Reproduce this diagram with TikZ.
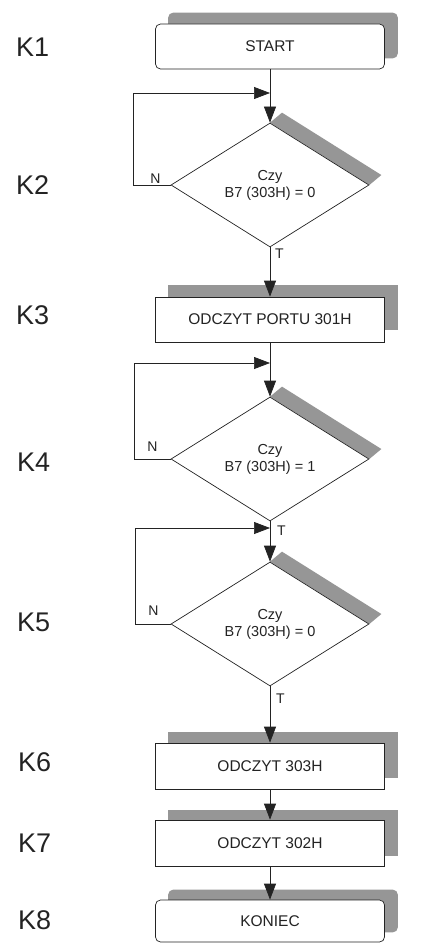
\documentclass[tikz,border=0pt]{standalone}
\usepackage{fontspec}
\setmainfont{Liberation Sans}
\usetikzlibrary{arrows.meta,shapes.geometric,calc,backgrounds}
\definecolor{shade}{RGB}{150,150,150}
\definecolor{ink}{RGB}{35,35,35}
\begin{document}
\begin{tikzpicture}[x=1pt,y=-1pt,
  box/.style={draw=ink, line width=0.7pt, fill=white, rectangle, minimum width=229pt, minimum height=45pt, inner sep=0pt, font=\fontsize{15.5}{17}\selectfont, text=ink},
  rbox/.style={box, rounded corners=5pt},
  dec/.style={draw=ink, line width=0.7pt, fill=white, diamond, minimum width=198pt, minimum height=124pt, inner sep=0pt, align=center, font=\fontsize{14.5}{17}\selectfont, text=ink},
  klab/.style={anchor=west, inner sep=0pt, font=\fontsize{27}{30}\selectfont, text=ink},
  lab/.style={inner sep=0pt, font=\fontsize{14}{15}\selectfont, text=ink},
  flow/.style={draw=ink, line width=0.7pt, -{Triangle[length=16pt,width=12pt]}},
  shad/.style={fill=shade}
]
\useasboundingbox (0,0) rectangle (431,944);

% step labels
\node[klab] (l1) at (16,47) {K1};
\node[klab] (l2) at (16,185) {K2};
\node[klab] (l3) at (16,315) {K3};
\node[klab] (l4) at (17,462) {K4};
\node[klab] (l5) at (17,622) {K5};
\node[klab] (l6) at (18,762) {K6};
\node[klab] (l7) at (18,843) {K7};
\node[klab] (l8) at (18,920) {K8};

% flow nodes
\node[rbox] (k1) at (270,46.5) {START};
\node[dec] (k2) at (270,185) {Czy\\B7 (303H) = 0};
\node[box] (k3) at (270,319.5) {ODCZYT PORTU 301H};
\node[dec] (k4) at (270,459) {Czy\\B7 (303H) = 1};
\node[dec] (k5) at (270,624) {Czy\\B7 (303H) = 0};
\node[box, minimum height=46pt] (k6) at (270,766) {ODCZYT 303H};
\node[box, minimum height=46pt] (k7) at (270,843) {ODCZYT 302H};
\node[rbox, minimum height=42pt] (k8) at (270,921) {KONIEC};

% shadows
\begin{scope}[on background layer]
  \fill[shad, rounded corners=5pt] ($(k1.south west)+(13,-11)$) rectangle ($(k1.north east)+(13,-11)$);
  \fill[shad] ($(k3.south west)+(13,-12)$) rectangle ($(k3.north east)+(13,-12)$);
  \fill[shad] ($(k6.south west)+(13,-11)$) rectangle ($(k6.north east)+(13,-11)$);
  \fill[shad] ($(k7.south west)+(13,-10)$) rectangle ($(k7.north east)+(13,-10)$);
  \fill[shad, rounded corners=5pt] ($(k8.south west)+(13,-10)$) rectangle ($(k8.north east)+(13,-10)$);
  \foreach \d in {k2,k4,k5}{
    \fill[shad] (\d.north) -- (\d.east) -- ($(\d.east)+(12,-10)$) -- ($(\d.north)+(12,-10)$) -- cycle;
  }
\end{scope}

% junction points of the loops
\coordinate (j2) at (270,93);
\coordinate (j4) at (270,363);
\coordinate (j5) at (270,528);

% main flow
\draw[flow] (k1) -- (k2);
\draw[flow] (k2) -- (k3);
\draw[flow] (k3) -- (k4);
\draw[flow] (k4) -- (k5);
\draw[flow] (k5) -- (k6);
\draw[flow] (k6) -- (k7);
\draw[flow] (k7) -- (k8);

% loops
\draw[flow] (k2.west) -- ++(-37,0) |- (j2);
\draw[flow] (k4.west) -- ++(-36,0) |- (j4);
\draw[flow] (k5.west) -- ++(-35,0) |- (j5);

% branch labels
\node[lab, anchor=south east] (n2) at ($(k2.west)+(-10,-1.5)$) {N};
\node[lab, anchor=south east] (n4) at ($(k4.west)+(-13,-7)$) {N};
\node[lab, anchor=south east] (n5) at ($(k5.west)+(-12,-8)$) {N};
\node[lab, anchor=north west] (t2) at ($(k2.south)+(5,1)$) {T};
\node[lab, anchor=west] (t4) at ($(j5)+(7,3)$) {T};
\node[lab, anchor=north west] (t5) at ($(k5.south)+(6,7)$) {T};
\end{tikzpicture}
\end{document}
